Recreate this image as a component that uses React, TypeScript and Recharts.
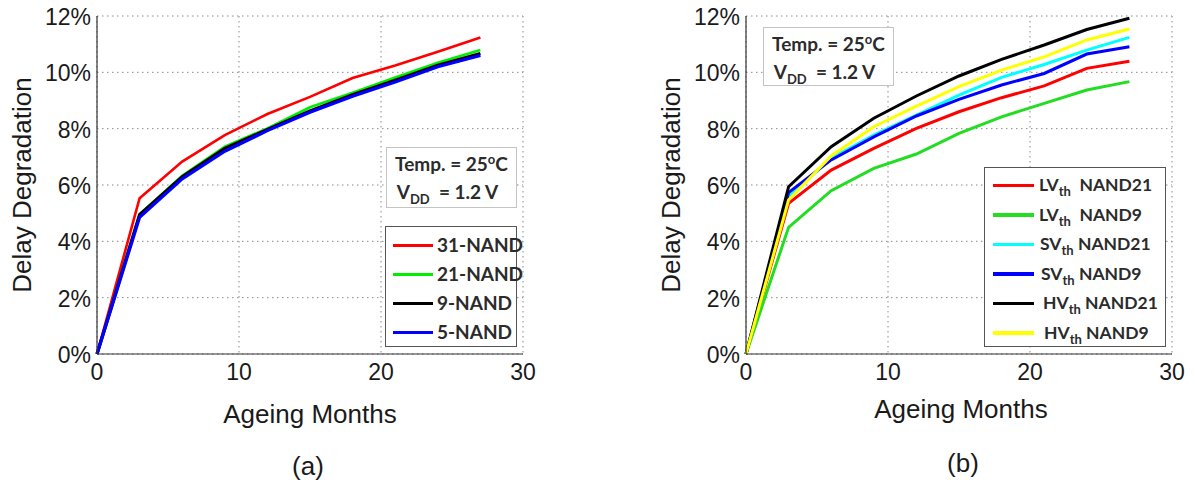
import React from "react"
import { LineChart, Line, XAxis, YAxis, CartesianGrid, Legend } from "recharts"

// Ageing months (x values shared by every series)
const months = [0, 3, 6, 9, 12, 15, 18, 21, 24, 27]

// (a) delay degradation in %, per NAND chain
const nand31 = [0, 5.53, 6.83, 7.77, 8.52, 9.13, 9.8, 10.24, 10.73, 11.24]
const nand21 = [0, 4.95, 6.33, 7.36, 8.01, 8.76, 9.28, 9.82, 10.34, 10.79]
const nand9 = [0, 4.95, 6.29, 7.3, 7.97, 8.63, 9.2, 9.72, 10.25, 10.67]
const nand5 = [0, 4.85, 6.22, 7.2, 7.93, 8.58, 9.15, 9.66, 10.2, 10.6]

// (b) delay degradation in %, per threshold flavour
const lvt21 = [0, 5.35, 6.53, 7.3, 8.01, 8.6, 9.1, 9.52, 10.14, 10.39]
const lvt9 = [0, 4.5, 5.8, 6.59, 7.1, 7.83, 8.42, 8.9, 9.37, 9.67]
const svt21 = [0, 5.6, 6.95, 7.77, 8.48, 9.19, 9.82, 10.28, 10.79, 11.24]
const svt9 = [0, 5.73, 6.89, 7.71, 8.45, 9.04, 9.55, 9.96, 10.65, 10.91]
const hvt21 = [0, 5.94, 7.36, 8.37, 9.16, 9.87, 10.46, 10.97, 11.52, 11.92]
const hvt9 = [0, 5.47, 7.03, 8.07, 8.8, 9.49, 10.08, 10.55, 11.15, 11.54]

const xTicks = [0, 10, 20, 30]
const yTicks = [0, 2, 4, 6, 8, 10, 12]

const dataA = months.map((m, i) => ({ m, n31: nand31[i], n21: nand21[i], n9: nand9[i], n5: nand5[i] }))
const dataB = months.map((m, i) => ({
  m, lv21: lvt21[i], lv9: lvt9[i], sv21: svt21[i], sv9: svt9[i], hv21: hvt21[i], hv9: hvt9[i],
}))

const seriesA = [
  { key: "n31", label: "31-NAND", color: "#ff0000" },
  { key: "n21", label: "21-NAND", color: "#00ee00" },
  { key: "n9", label: "9-NAND", color: "#000000" },
  { key: "n5", label: "5-NAND", color: "#0000ff" },
]

const seriesB = [
  { key: "lv21", pre: "LV", post: "NAND21", color: "#ff0000", indent: 55 },
  { key: "lv9", pre: "LV", post: "NAND9", color: "#22dd22", indent: 55 },
  { key: "sv21", pre: "SV", post: "NAND21", color: "#00ffff", indent: 56 },
  { key: "sv9", pre: "SV", post: "NAND9", color: "#0000ff", indent: 57 },
  { key: "hv21", pre: "HV", post: "NAND21", color: "#000000", indent: 59 },
  { key: "hv9", pre: "HV", post: "NAND9", color: "#ffff00", indent: 60 },
]

const axisFont = "'Liberation Sans', Arial, Helvetica, sans-serif"
const boxFont = "Lato, 'Open Sans', sans-serif"

const YTick = (props: any) => (
  <text x={props.x} y={props.y} dy={9} textAnchor="end" fontSize={23} fontFamily={axisFont} fill="#1a1a1a">
    {props.payload.value}%
  </text>
)

const XTick = (props: any) => (
  <text x={props.x} y={props.y} dy={16.5} textAnchor="middle" fontSize={23} fontFamily={axisFont} fill="#1a1a1a">
    {props.payload.value}
  </text>
)

function LegendA() {
  return (
    <div style={{ position: "relative", width: 132, height: 121, boxSizing: "border-box", border: "1.5px solid #555", background: "#fff" }}>
      {seriesA.map((s, i) => (
        <div key={s.key} style={{ position: "absolute", left: 0, top: 18 + i * 29 - 12, height: 24, width: 132 }}>
          <div style={{ position: "absolute", left: 7, top: 10.5, width: 40, height: 3, background: s.color }} />
          <span style={{ position: "absolute", left: 51, top: 0, lineHeight: "24px", fontFamily: boxFont, fontWeight: 700, fontSize: 19, color: "#2b2b2b", whiteSpace: "nowrap" }}>
            {s.label}
          </span>
        </div>
      ))}
    </div>
  )
}

function LegendB() {
  return (
    <div style={{ position: "relative", width: 182, height: 180, boxSizing: "border-box", border: "1.5px solid #555", background: "#fff" }}>
      {seriesB.map((s, i) => (
        <div key={s.key} style={{ position: "absolute", left: 0, top: 17 + i * 29.5 - 12, height: 24, width: 182 }}>
          <div style={{ position: "absolute", left: 8, top: 10.5, width: 41, height: 3.5, background: s.color }} />
          <span style={{ position: "absolute", left: s.indent - 1, top: 0, lineHeight: "24px", fontFamily: boxFont, fontWeight: 700, fontSize: 17.5, color: "#2b2b2b", whiteSpace: "nowrap" }}>
            {s.pre}
            <span style={{ fontSize: 13, position: "relative", top: 5 }}>th</span>
            {s.pre === "LV" ? "\u00a0\u00a0" : "\u00a0"}
            {s.post}
          </span>
        </div>
      ))}
    </div>
  )
}

function TempBox({ left, top, width, height }: { left: number; top: number; width: number; height: number }) {
  const txt: React.CSSProperties = { fontFamily: boxFont, fontWeight: 700, fontSize: 19, color: "#2b2b2b", whiteSpace: "nowrap", lineHeight: "25px" }
  return (
    <div style={{ position: "absolute", left, top, width, height, boxSizing: "border-box", border: "1.5px solid #c4c4c4", background: "#fff", textAlign: "center", paddingTop: 3 }}>
      <div style={txt}>
        Temp. = 25<span style={{ fontSize: 13, position: "relative", top: -7 }}>o</span>C
      </div>
      <div style={{ ...txt, paddingRight: 8 }}>
        V<span style={{ fontSize: 13, position: "relative", top: 5 }}>DD</span>&nbsp; = 1.2 V
      </div>
    </div>
  )
}

const labelStyle: React.CSSProperties = { position: "absolute", fontFamily: axisFont, fontSize: 26, color: "#1a1a1a", whiteSpace: "nowrap", transform: "translate(-50%, -50%)" }

export default function App() {
  return (
    <div style={{ position: "absolute", left: 0, top: 0, width: 1195, height: 486, background: "#fff", overflow: "hidden" }}>
      {/* (a) */}
      <div style={{ position: "absolute", left: 0, top: 0 }}>
        <LineChart width={600} height={400} data={dataA} margin={{ top: 16, right: 77, bottom: 0, left: 0 }}>
          <CartesianGrid stroke="#8a8a8a" strokeDasharray="1.5 3.5" />
          <XAxis dataKey="m" type="number" domain={[0, 30]} ticks={xTicks} height={46} tickSize={0} tickMargin={9} tick={XTick} stroke="#333" strokeWidth={1.2} />
          <YAxis type="number" domain={[0, 12]} ticks={yTicks} width={97} tickSize={0} tickMargin={6} tick={YTick} stroke="#333" strokeWidth={1.2} />
          {seriesA.map((s) => (
            <Line key={s.key} dataKey={s.key} type="linear" stroke={s.color} strokeWidth={s.key === "n5" || s.key === "n9" ? 3.2 : 2.6} dot={false} isAnimationActive={false} />
          ))}
          <Legend layout="vertical" align="center" verticalAlign="middle" content={() => <LegendA />}
            wrapperStyle={{ left: 385, top: 226, width: 132, height: 121 }} />
        </LineChart>
      </div>
      {/* (b) */}
      <div style={{ position: "absolute", left: 649, top: 0 }}>
        <LineChart width={546} height={400} data={dataB} margin={{ top: 16, right: 23, bottom: 0, left: 0 }}>
          <CartesianGrid stroke="#8a8a8a" strokeDasharray="1.5 3.5" />
          <XAxis dataKey="m" type="number" domain={[0, 30]} ticks={xTicks} height={46} tickSize={0} tickMargin={9} tick={XTick} stroke="#333" strokeWidth={1.2} />
          <YAxis type="number" domain={[0, 12]} ticks={yTicks} width={97} tickSize={0} tickMargin={6} tick={YTick} stroke="#333" strokeWidth={1.2} />
          {seriesB.map((s) => (
            <Line key={s.key} dataKey={s.key} type="linear" stroke={s.color} strokeWidth={3} dot={false} isAnimationActive={false} />
          ))}
          <Legend layout="vertical" align="center" verticalAlign="middle" content={() => <LegendB />}
            wrapperStyle={{ left: 335, top: 167, width: 182, height: 180 }} />
        </LineChart>
      </div>

      <TempBox left={386} top={147} width={131} height={61} />
      <TempBox left={763} top={27} width={131} height={59} />

      <div style={{ ...labelStyle, left: 22, top: 185, transform: "translate(-50%, -50%) rotate(-90deg)" }}>Delay Degradation</div>
      <div style={{ ...labelStyle, left: 671, top: 185, transform: "translate(-50%, -50%) rotate(-90deg)" }}>Delay Degradation</div>
      <div style={{ ...labelStyle, left: 310, top: 414 }}>Ageing Months</div>
      <div style={{ ...labelStyle, left: 961, top: 409 }}>Ageing Months</div>
      <div style={{ ...labelStyle, left: 308, top: 466 }}>(a)</div>
      <div style={{ ...labelStyle, left: 963, top: 463 }}>(b)</div>
    </div>
  )
}
